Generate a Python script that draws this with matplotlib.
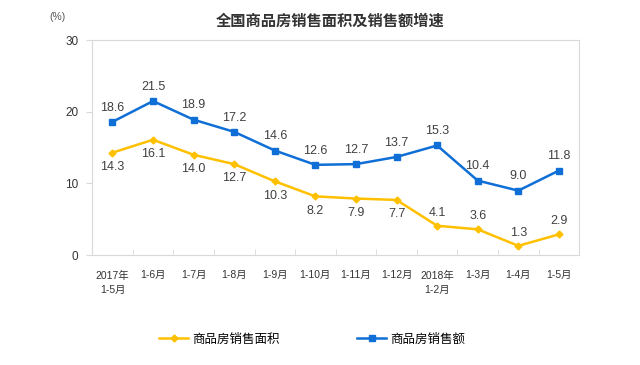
import matplotlib
matplotlib.use('Agg')
import matplotlib.pyplot as plt

plt.rcParams['font.family'] = ['Liberation Sans', 'Noto Sans CJK SC', 'DejaVu Sans']

# data
months = ['2017年\n1-5月', '1-6月', '1-7月', '1-8月', '1-9月', '1-10月', '1-11月',
          '1-12月', '2018年\n1-2月', '1-3月', '1-4月', '1-5月']
area_growth = [14.3, 16.1, 14.0, 12.7, 10.3, 8.2, 7.9, 7.7, 4.1, 3.6, 1.3, 2.9]
sales_growth = [18.6, 21.5, 18.9, 17.2, 14.6, 12.6, 12.7, 13.7, 15.3, 10.4, 9.0, 11.8]

yellow = '#FFC000'
blue = '#0F6FD6'
grey = '#D9D9D9'

fig = plt.figure(figsize=(6.4, 3.65), dpi=100)
ax = fig.add_axes([0.144, 0.301, 0.761, 0.589])

x = list(range(len(months)))
ax.plot(x, area_growth, color=yellow, lw=1.8, marker='D', ms=3.5, label='商品房销售面积')
ax.plot(x, sales_growth, color=blue, lw=1.8, marker='s', ms=4, label='商品房销售额')

# value labels
for i, v in enumerate(sales_growth):
    ax.annotate(f'{v:.1f}', (i, v), xytext=(0, 6), textcoords='offset points',
                ha='center', va='bottom', fontsize=9, color='#404040')
for i, v in enumerate(area_growth):
    if i >= 8:
        ax.annotate(f'{v:.1f}', (i, v), xytext=(0, 5), textcoords='offset points',
                    ha='center', va='bottom', fontsize=9, color='#404040')
    else:
        ax.annotate(f'{v:.1f}', (i, v), xytext=(0, -6), textcoords='offset points',
                    ha='center', va='top', fontsize=9, color='#404040')

ax.set_xlim(-0.5, len(months) - 0.5)
ax.set_ylim(0, 30)
ax.set_yticks([0, 10, 20, 30])
ax.set_xticks(x)
ax.set_xticklabels(months, fontsize=7.5, color='#333333', linespacing=1.5)
ax.set_xticks([i + 0.5 for i in x[:-1]], minor=True)
ax.tick_params(axis='x', which='major', length=0, pad=11)
ax.tick_params(axis='x', which='minor', direction='in', length=4, color=grey)
ax.tick_params(axis='y', length=4, color=grey, labelsize=8.5, labelcolor='#333333', pad=6)
for s in ax.spines.values():
    s.set_color(grey)

fig.text(0.516, 0.94, '全国商品房销售面积及销售额增速', ha='center', va='center',
         fontsize=11, fontweight='bold', color='#333333')
fig.text(0.09, 0.953, '(%)', ha='center', va='center', fontsize=7.5, color='#555555')

fig.legend(loc='center', bbox_to_anchor=(0.488, 0.07), ncol=2, frameon=False,
           fontsize=9, handlelength=2.3, handletextpad=0.35, columnspacing=6.2)

fig.savefig('out.png', dpi=100)
